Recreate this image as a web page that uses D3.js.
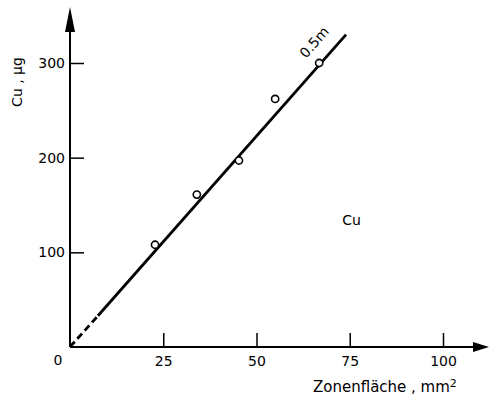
<!DOCTYPE html>
<html>
<head>
<meta charset="utf-8">
<script src="https://cdn.jsdelivr.net/npm/d3@7"></script>
<style>
  body { margin: 0; background: #fff; }
  svg text { font-family: "DejaVu Sans", sans-serif; fill: #000; }
</style>
</head>
<body>
<div id="chart"></div>
<script>
// measured points, Cu (µg) vs zone area (mm2)
var areas = [22.8, 34, 45.3, 55, 66.8];
var cuValues = [108, 161, 197, 262, 300];
// calibration line: dashed part near origin, solid part above
var lineDashed = [[0, 0], [7.5, 33]];
var lineSolid = [[7.5, 33], [74, 330]];
var xTicks = [25, 50, 75, 100];
var yTicks = [100, 200, 300];
var originLabel = '0';
var lineLabel = '0.5m';
var elementLabel = 'Cu';
var xTitle = 'Zonenfläche , mm';
var yTitle = 'Cu , µg';

var width = 489, height = 400;
var svg = d3.select('#chart').append('svg')
    .attr('width', width).attr('height', height);

var x = d3.scaleLinear().domain([0, 100]).range([70, 443]);
var y = d3.scaleLinear().domain([0, 300]).range([347, 63]);

// axis lines with arrow heads
svg.append('line')
    .attr('x1', x(0)).attr('y1', y(0))
    .attr('x2', x(0)).attr('y2', 30)
    .attr('stroke', '#000').attr('stroke-width', 2);
svg.append('path')
    .attr('d', 'M' + (x(0) - 5) + ',32 L' + x(0) + ',7 L' + (x(0) + 5) + ',32 Z')
    .attr('fill', '#000');
svg.append('line')
    .attr('x1', x(0)).attr('y1', y(0))
    .attr('x2', 476).attr('y2', y(0))
    .attr('stroke', '#000').attr('stroke-width', 2);
svg.append('path')
    .attr('d', 'M473,' + (y(0) - 5) + ' L489,' + y(0) + ' L473,' + (y(0) + 5) + ' Z')
    .attr('fill', '#000');

var xAxis = d3.axisBottom(x).tickValues(xTicks)
    .tickSizeInner(-14).tickSizeOuter(0).tickPadding(9);
var gx = svg.append('g').attr('transform', 'translate(0,' + y(0) + ')').call(xAxis);
gx.select('.domain').remove();
gx.selectAll('line').attr('stroke-width', 1.5);
gx.selectAll('text').attr('font-size', 14).attr('font-family', '"DejaVu Sans", sans-serif');

var yAxis = d3.axisLeft(y).tickValues(yTicks)
    .tickSizeInner(-14).tickSizeOuter(0).tickPadding(5);
var gy = svg.append('g').attr('transform', 'translate(' + x(0) + ',0)').call(yAxis);
gy.select('.domain').remove();
gy.selectAll('line').attr('stroke-width', 1.5);
gy.selectAll('text').attr('font-size', 14).attr('font-family', '"DejaVu Sans", sans-serif');

svg.append('text')
    .attr('x', x(0) - 12).attr('y', y(0) + 18)
    .attr('text-anchor', 'middle').attr('font-size', 14)
    .text(originLabel);

// regression line
var line = d3.line().x(function (d) { return x(d[0]); }).y(function (d) { return y(d[1]); });
svg.append('path').datum(lineDashed)
    .attr('d', line).attr('fill', 'none')
    .attr('stroke', '#000').attr('stroke-width', 2.8)
    .attr('stroke-dasharray', '7,4');
svg.append('path').datum(lineSolid)
    .attr('d', line).attr('fill', 'none')
    .attr('stroke', '#000').attr('stroke-width', 2.8);

// data points
svg.selectAll('circle.pt').data(areas).enter().append('circle')
    .attr('class', 'pt')
    .attr('cx', function (d) { return x(d); })
    .attr('cy', function (d, i) { return y(cuValues[i]); })
    .attr('r', 3.6)
    .attr('fill', '#fff').attr('stroke', '#000').attr('stroke-width', 1.6);

// label along the line
var p0 = [x(lineSolid[0][0]), y(lineSolid[0][1])];
var p1 = [x(lineSolid[1][0]), y(lineSolid[1][1])];
var angle = Math.atan2(p1[1] - p0[1], p1[0] - p0[0]) * 180 / Math.PI;
svg.append('text')
    .attr('transform', 'translate(306,59) rotate(' + angle + ')')
    .attr('font-size', 14)
    .text(lineLabel);

svg.append('text')
    .attr('x', x(73)).attr('y', y(129))
    .attr('font-size', 14)
    .text(elementLabel);

// axis titles
var xt = svg.append('text')
    .attr('x', 313).attr('y', 392)
    .attr('font-size', 15);
xt.append('tspan').text(xTitle);
xt.append('tspan').attr('dy', -5).attr('font-size', 11).text('2');

svg.append('text')
    .attr('transform', 'translate(22,82) rotate(-90)')
    .attr('text-anchor', 'middle').attr('font-size', 14)
    .text(yTitle);
</script>
</body>
</html>
